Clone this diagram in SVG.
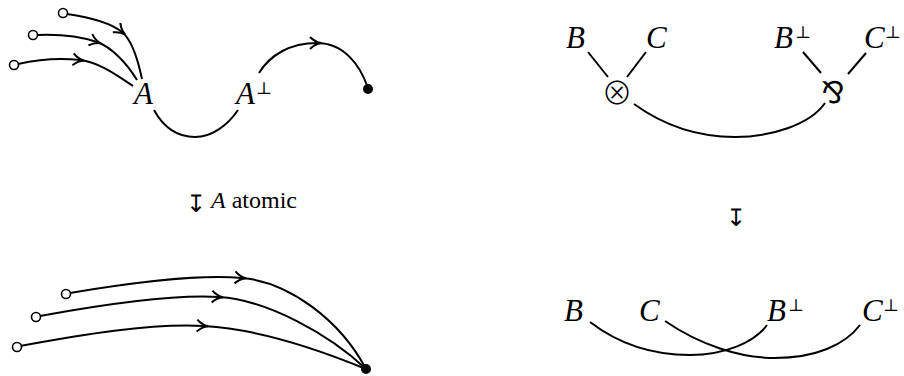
<svg xmlns="http://www.w3.org/2000/svg" width="904" height="376" viewBox="0 0 904 376">
<style>
.w{fill:none;stroke:#000;stroke-width:2}
.arr{marker-mid:url(#ah)}
.open{fill:#fff;stroke:#000;stroke-width:1.6}
.dot{fill:#000}
.m{font-family:"Liberation Serif",serif;font-style:italic;font-size:31px;fill:#000}
.p{font-family:"DejaVu Serif",serif;font-size:17px;fill:#000}
.s{font-family:"DejaVu Sans",sans-serif;fill:#000}
.t{font-family:"Liberation Serif",serif;font-size:24px;fill:#000}
.o{font-family:"Noto Sans CJK JP","DejaVu Sans",sans-serif;font-weight:300;fill:#000}
</style>
<defs>
<marker id="ah" viewBox="-8 -8 16 16" markerWidth="16" markerHeight="16" markerUnits="userSpaceOnUse" orient="auto" refX="0" refY="0">
<path d="M-7,-6 Q-2,-1 4,0 Q-2,1 -7,6" fill="none" stroke="#000" stroke-width="2"/>
</marker>
</defs>
<g id="connectors">
<path class="w arr" d="M67,14 C95,18 112,24 122,32 S138,60 142,79"/>
<path class="w arr" d="M37,35 C60,34 82,37 97,42 S128,65 137,80"/>
<path class="w arr" d="M18,64 C40,59 62,58 80,60 S115,74 133,86"/>
<path class="w" d="M154,110 C165,130 180,137 195,137 C212,137 228,125 238,110"/>
<path class="w arr" d="M259,73 C270,55 290,43 317,43 S360,65 368,88"/>
<path class="w" d="M588,52 L608,77"/>
<path class="w" d="M627,77 L646,52"/>
<path class="w" d="M803,52 L821,73"/>
<path class="w" d="M848,74 L866,53"/>
<path class="w" d="M634,104 C670,130 705,137 735,137 C770,137 810,125 825,103"/>
<path class="w arr" d="M70,293 C130,283 195,274 242,278 S340,320 366,369"/>
<path class="w arr" d="M40,316 C100,305 170,294 219,297 S330,335 366,369"/>
<path class="w arr" d="M20,346 C80,335 150,323 204,326 S320,350 366,369"/>
<path class="w" d="M590,322 C620,345 655,355 690,355 C725,355 755,342 767,325"/>
<path class="w" d="M665,321 C700,345 740,358 775,358 C815,358 845,345 860,325"/>
</g>
<g id="n-top-in1"><circle class="open" cx="63" cy="13" r="4.5"/></g>
<g id="n-top-in2"><circle class="open" cx="33" cy="35" r="4.5"/></g>
<g id="n-top-in3"><circle class="open" cx="14" cy="65" r="4.5"/></g>
<g id="n-top-out"><circle class="dot" cx="368" cy="89" r="5"/></g>
<g id="n-A"><text class="m" x="134" y="104">A</text></g>
<g id="n-Aperp"><text class="m" x="236" y="104">A</text><text class="p" x="256" y="94">⊥</text></g>
<g id="step-left"><text class="o" font-size="24" x="186" y="212">↧</text><text class="t" x="211" y="208"><tspan font-style="italic">A</tspan> atomic</text></g>
<g id="step-right"><text class="o" font-size="24" x="726" y="226">↧</text></g>
<g id="n-B"><text class="m" x="566" y="48">B</text></g>
<g id="n-C"><text class="m" x="646" y="48">C</text></g>
<g id="n-tensor"><text class="o" font-size="31" x="617" y="104" text-anchor="middle">⊗</text></g>
<g id="n-Bperp"><text class="m" x="774" y="48">B</text><text class="p" x="795" y="38">⊥</text></g>
<g id="n-Cperp"><text class="m" x="864" y="48">C</text><text class="p" x="885" y="38">⊥</text></g>
<g id="n-par"><text class="s" font-size="30" x="833" y="103" text-anchor="middle">⅋</text></g>
<g id="n-bot-in1"><circle class="open" cx="66" cy="294" r="4.5"/></g>
<g id="n-bot-in2"><circle class="open" cx="36" cy="317" r="4.5"/></g>
<g id="n-bot-in3"><circle class="open" cx="17" cy="347" r="4.5"/></g>
<g id="n-bot-out"><circle class="dot" cx="366" cy="369" r="5"/></g>
<g id="n-B2"><text class="m" x="564" y="321">B</text></g>
<g id="n-C2"><text class="m" x="639" y="321">C</text></g>
<g id="n-Bperp2"><text class="m" x="767" y="321">B</text><text class="p" x="788" y="311">⊥</text></g>
<g id="n-Cperp2"><text class="m" x="862" y="321">C</text><text class="p" x="883" y="311">⊥</text></g>
</svg>
